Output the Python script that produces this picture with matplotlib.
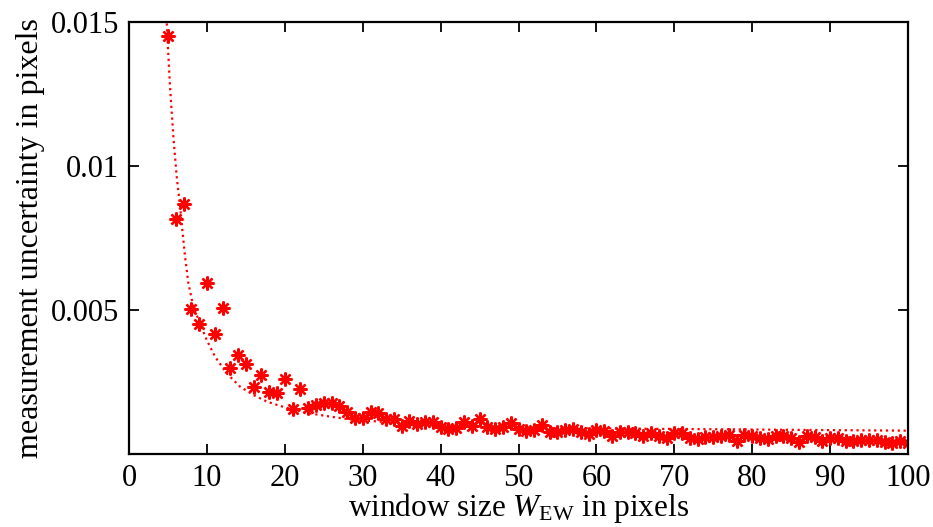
import numpy as np
import matplotlib
matplotlib.use("Agg")
import matplotlib.pyplot as plt

window = list(range(5, 101))
uncert = [0.01451, 0.00816, 0.00868, 0.00503, 0.00450, 0.00593, 0.00416, 0.00506,
          0.00300, 0.00343, 0.00313, 0.00234, 0.00274, 0.00215, 0.00212, 0.00259,
          0.00157, 0.00226, 0.00160, 0.00170, 0.00176, 0.00176, 0.00167, 0.00147,
          0.00124, 0.00125, 0.00145, 0.00141, 0.00120, 0.00120, 0.00097, 0.00115,
          0.00104, 0.00112, 0.00111, 0.00095, 0.00086, 0.00089, 0.00112, 0.00097,
          0.00120, 0.00093, 0.00087, 0.00093, 0.00109, 0.00087, 0.00080, 0.00082,
          0.00100, 0.00076, 0.00076, 0.00084, 0.00087, 0.00076, 0.00069, 0.00083,
          0.00079, 0.00064, 0.00077, 0.00077, 0.00072, 0.00064, 0.00074, 0.00064,
          0.00057, 0.00074, 0.00074, 0.00055, 0.00051, 0.00060, 0.00060, 0.00063,
          0.00065, 0.00045, 0.00065, 0.00063, 0.00057, 0.00051, 0.00064, 0.00064,
          0.00055, 0.00043, 0.00063, 0.00058, 0.00045, 0.00055, 0.00057, 0.00045,
          0.00045, 0.00049, 0.00049, 0.00049, 0.00043, 0.00037, 0.00045, 0.00039]

# fitted curve (dotted)
fit_x = [4.84, 5.26, 5.69, 6.12, 6.55, 6.76, 7.19, 7.62, 8.26, 9.11, 9.97, 11.04,
         12.54, 14.25, 15.96, 17.7, 19.4, 20.7, 23.2, 25.8, 28.4, 30.9, 35, 40,
         50, 60, 70, 80, 90, 100]
fit_y = [0.01495, 0.01275, 0.01102, 0.00963, 0.00859, 0.00801, 0.00685, 0.00593,
         0.00511, 0.00454, 0.00396, 0.00338, 0.00280, 0.00234, 0.00205, 0.00182,
         0.00167, 0.00157, 0.00141, 0.00130, 0.00120, 0.00115, 0.00107, 0.00100,
         0.00093, 0.00089, 0.00087, 0.00085, 0.00083, 0.00081]

plt.rcParams['font.family'] = ['Liberation Serif', 'DejaVu Serif']
plt.rcParams['mathtext.fontset'] = 'custom'
plt.rcParams['mathtext.rm'] = 'Liberation Serif'
plt.rcParams['mathtext.it'] = 'Liberation Serif:italic'

fig = plt.figure(figsize=(9.33, 5.27), dpi=100)
ax = fig.add_axes([0.1383, 0.1385, 0.8349, 0.8198])

ax.plot(fit_x, fit_y, ':', color='red', lw=1.6)
ax.plot(window, uncert, linestyle='none', marker=(8, 2, 0), color='red',
        markersize=10, markeredgewidth=1.7)

ax.set_xlim(0, 100)
ax.set_ylim(0, 0.015)
ax.set_xticks(range(0, 101, 10))
ax.set_yticks([0.005, 0.01, 0.015])
ax.set_yticklabels(['0.005', '0.01', '0.015'])

for s in ax.spines.values():
    s.set_linewidth(1.6)
ax.tick_params(direction='in', length=7, width=1.3, top=True, right=True,
               labelsize=22, pad=7)

ax.set_xlabel(r'window size $W_{\mathrm{EW}}$ in pixels', fontsize=22.5, labelpad=-1)
ax.set_ylabel('measurement uncertainty in pixels', fontsize=23, labelpad=4)

fig.savefig('out.png', dpi=100)
plt.close()
